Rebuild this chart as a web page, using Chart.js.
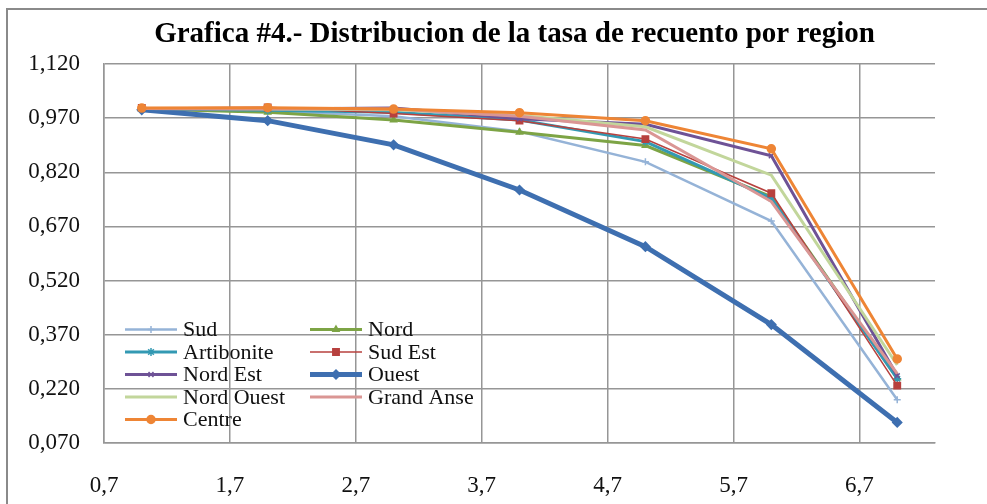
<!DOCTYPE html>
<html>
<head>
<meta charset="utf-8">
<script src="https://cdn.jsdelivr.net/npm/chart.js@4.4.1/dist/chart.umd.min.js"></script>
<style>
  html, body { margin: 0; padding: 0; background: #ffffff; }
  #wrap { width: 987px; height: 504px; position: relative; }
</style>
</head>
<body>
<div id="wrap"><canvas id="chart" width="987" height="504"></canvas></div>
<script>
// Regions (x = 1..7) and their counting-rate values
const xValues = [1, 2, 3, 4, 5, 6, 7];

const sud        = [0.995, 0.990, 0.975, 0.933, 0.849, 0.685, 0.190];
const nord       = [0.995, 0.986, 0.965, 0.931, 0.894, 0.752, 0.250];
const artibonite = [0.996, 0.992, 0.986, 0.965, 0.905, 0.748, 0.248];
const sudEst     = [0.998, 1.000, 0.983, 0.963, 0.912, 0.762, 0.229];
const nordEst    = [0.996, 0.995, 0.998, 0.968, 0.953, 0.866, 0.256];
const ouest      = [0.993, 0.963, 0.896, 0.771, 0.614, 0.398, 0.127];
const nordOuest  = [0.997, 0.995, 0.993, 0.977, 0.946, 0.812, 0.286];
const grandAnse  = [0.997, 0.996, 0.995, 0.975, 0.937, 0.739, 0.262];
const centre     = [0.998, 0.999, 0.995, 0.985, 0.963, 0.885, 0.303];

const seriesNames = ['Sud', 'Nord', 'Artibonite', 'Sud Est', 'Nord Est', 'Ouest', 'Nord Ouest', 'Grand Anse', 'Centre'];
const seriesValues = [sud, nord, artibonite, sudEst, nordEst, ouest, nordOuest, grandAnse, centre];

const xTicks = [0.7, 1.7, 2.7, 3.7, 4.7, 5.7, 6.7];
const yTicks = [0.070, 0.220, 0.370, 0.520, 0.670, 0.820, 0.970, 1.120];

const titleText = 'Grafica #4.- Distribucion de la tasa de recuento por region';

// Line / marker styling per series
const styles = [
  { color: '#95B3D7', width: 2.5, point: 'cross',    radius: 3.5 },
  { color: '#7DA445', width: 3,   point: 'triangle', radius: 3.5 },
  { color: '#3399B3', width: 3,   point: 'star',     radius: 4 },
  { color: '#B7413E', width: 1.5, point: 'rect',     radius: 4.5 },
  { color: '#6E5296', width: 3,   point: 'crossRot', radius: 3.5 },
  { color: '#3E6FB0', width: 5,   point: 'rectRot',  radius: 4.5 },
  { color: '#C2D69B', width: 3,   point: false,      radius: 0 },
  { color: '#DA9694', width: 3,   point: false,      radius: 0 },
  { color: '#EE8535', width: 3,   point: 'circle',   radius: 4 }
];

const serif = '"Liberation Serif", "Times New Roman", serif';
const gridColor = '#969696';

function fmt(v, digits) {
  return v.toFixed(digits).replace('.', ',');
}

const datasets = seriesNames.map((name, i) => ({
  label: name,
  data: xValues.map((x, j) => ({ x: x, y: seriesValues[i][j] })),
  borderColor: styles[i].color,
  backgroundColor: styles[i].color,
  borderWidth: styles[i].width,
  pointStyle: styles[i].point,
  pointRadius: styles[i].radius,
  pointHoverRadius: styles[i].radius,
  pointBackgroundColor: styles[i].color,
  pointBorderColor: styles[i].color,
  pointBorderWidth: 1.5,
  showLine: true,
  tension: 0,
  fill: false,
  // later series sit on top
  order: seriesNames.length - i
}));

// Outer frame around the whole figure
const framePlugin = {
  id: 'frame',
  beforeDraw(chart) {
    const ctx = chart.ctx;
    ctx.save();
    ctx.fillStyle = '#ffffff';
    ctx.fillRect(0, 0, chart.width, chart.height);
    ctx.strokeStyle = '#8a8a8a';
    ctx.lineWidth = 2;
    ctx.beginPath();
    ctx.moveTo(7, chart.height + 2);
    ctx.lineTo(7, 9);
    ctx.lineTo(chart.width + 2, 9);
    ctx.stroke();
    ctx.restore();
  }
};

// Title centred over the plot area
const titlePlugin = {
  id: 'plotTitle',
  afterDraw(chart) {
    const ctx = chart.ctx;
    const area = chart.chartArea;
    ctx.save();
    ctx.font = 'bold 29px ' + serif;
    ctx.fillStyle = '#000000';
    ctx.textAlign = 'center';
    ctx.textBaseline = 'middle';
    ctx.fillText(titleText, (area.left + area.right) / 2 - 5, 35);
    ctx.restore();
  }
};

// Two-column legend in the lower-left corner of the plot area
const legendPlugin = {
  id: 'insideLegend',
  afterDatasetsDraw(chart) {
    const ctx = chart.ctx;
    const area = chart.chartArea;
    const drawPoint = Chart.helpers && Chart.helpers.drawPoint;
    ctx.save();
    ctx.font = '22px ' + serif;
    ctx.textBaseline = 'middle';
    ctx.textAlign = 'left';
    chart.data.datasets.forEach((ds, i) => {
      const col = i % 2;
      const row = Math.floor(i / 2);
      const x0 = area.left + 21 + col * 185;
      const y = 329.5 + row * 22.5;
      ctx.strokeStyle = ds.borderColor;
      ctx.lineWidth = ds.borderWidth;
      ctx.beginPath();
      ctx.moveTo(x0, y);
      ctx.lineTo(x0 + 52, y);
      ctx.stroke();
      if (ds.pointStyle && drawPoint) {
        ctx.fillStyle = ds.pointBackgroundColor;
        ctx.strokeStyle = ds.pointBorderColor;
        ctx.lineWidth = ds.pointBorderWidth;
        drawPoint(ctx, {
          pointStyle: ds.pointStyle,
          radius: ds.pointRadius,
          rotation: 0,
          borderWidth: ds.pointBorderWidth
        }, x0 + 26, y);
      }
      ctx.fillStyle = '#111111';
      ctx.fillText(ds.label, x0 + 58, y + 1);
    });
    ctx.restore();
  }
};

new Chart(document.getElementById('chart'), {
  type: 'scatter',
  data: { datasets: datasets },
  options: {
    responsive: false,
    animation: false,
    devicePixelRatio: 1,
    layout: { padding: { top: 64, right: 52, bottom: 0, left: 0 } },
    plugins: {
      legend: { display: false },
      title: { display: false },
      tooltip: { enabled: false }
    },
    scales: {
      x: {
        type: 'linear',
        min: 0.7,
        max: 7.3,
        afterBuildTicks(scale) { scale.ticks = xTicks.map(v => ({ value: v })); },
        afterFit(scale) { scale.height = 61; },
        grid: { color: gridColor, lineWidth: 1.5, drawTicks: false },
        border: { color: gridColor, width: 1.5 },
        ticks: {
          padding: 29,
          maxRotation: 0,
          autoSkip: false,
          color: '#111111',
          font: { family: serif, size: 23 },
          callback: v => fmt(v, 1)
        }
      },
      y: {
        type: 'linear',
        min: 0.07,
        max: 1.12,
        afterBuildTicks(scale) { scale.ticks = yTicks.map(v => ({ value: v })); },
        afterFit(scale) { scale.width = 104; },
        grid: { color: gridColor, lineWidth: 1.5, drawTicks: false },
        border: { color: gridColor, width: 1.5 },
        ticks: {
          padding: 24,
          autoSkip: false,
          color: '#111111',
          font: { family: serif, size: 23 },
          callback: v => fmt(v, 3)
        }
      }
    }
  },
  plugins: [framePlugin, titlePlugin, legendPlugin]
});
</script>
</body>
</html>
